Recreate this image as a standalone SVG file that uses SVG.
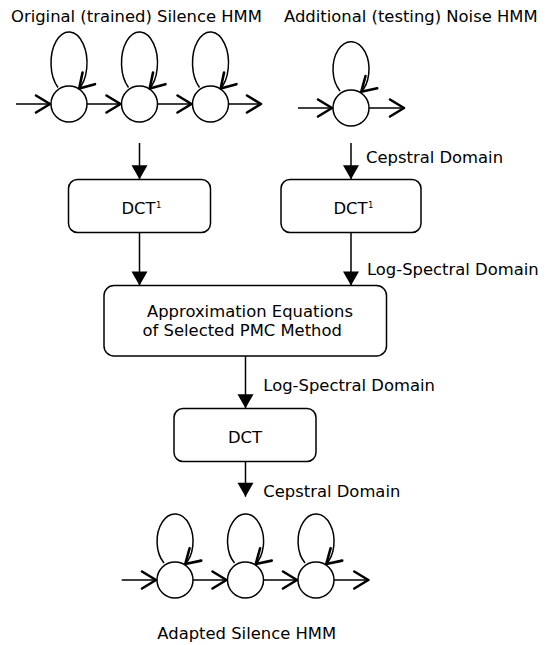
<svg xmlns="http://www.w3.org/2000/svg" width="559" height="645" viewBox="0 0 559 645">
  <style>
    text { font-family: "DejaVu Sans", "Liberation Sans", sans-serif; font-size: 16.4px; fill: #000; }
    .sup { font-size: 8.5px; }
    .state { fill: #fff; stroke: #000; stroke-width: 1.5; }
    .loop { fill: none; stroke: #000; stroke-width: 1.5; marker-end: url(#chev); }
    .trans { fill: none; stroke: #000; stroke-width: 1.5; marker-end: url(#chev); }
    .box { fill: #fff; stroke: #000; stroke-width: 1.5; }
    .flow { fill: none; stroke: #000; stroke-width: 1.5; marker-end: url(#tri); }
  </style>
  <defs>
    <!-- open chevron for HMM transitions -->
    <marker id="chev" markerUnits="userSpaceOnUse" viewBox="-20 -12 24 24" markerWidth="24" markerHeight="24" refX="0" refY="0" orient="auto">
      <path d="M -15 -8.5 L -1 0 L -15 8.5" fill="none" stroke="#000" stroke-width="2.6" stroke-linejoin="round" stroke-linecap="round"/>
    </marker>
    <!-- filled triangle for processing flow -->
    <marker id="tri" markerUnits="userSpaceOnUse" viewBox="-16 -10 18 20" markerWidth="18" markerHeight="20" refX="0" refY="0" orient="auto">
      <path d="M -14 -8 L 0 0 L -14 8 Z" fill="#000"/>
    </marker>
  </defs>

  <!-- titles -->
  <text id="title-silence" x="11" y="22">Original (trained) Silence HMM</text>
  <text id="title-noise" x="284" y="22">Additional (testing) Noise HMM</text>

  <!-- original silence HMM -->
  <g id="silence-hmm">
    <path class="trans" d="M 16 104 L 51 104"/>
    <path class="trans" d="M 87 104 L 121.5 104"/>
    <path class="trans" d="M 157.5 104 L 192.5 104"/>
    <path class="trans" d="M 228.5 104 L 262 104"/>
    <circle class="state" cx="69" cy="104" r="18"/>
    <circle class="state" cx="139.5" cy="104" r="18"/>
    <circle class="state" cx="210.5" cy="104" r="18"/>
    <path class="loop" d="M 58 87.5 A 18 31 0 1 1 78.5 89.3"/>
    <path class="loop" d="M 128.5 87.5 A 18 31 0 1 1 149 89.3"/>
    <path class="loop" d="M 199.5 87.5 A 18 31 0 1 1 220 89.3"/>
  </g>

  <!-- noise HMM -->
  <g id="noise-hmm">
    <path class="trans" d="M 298 108 L 333 108"/>
    <path class="trans" d="M 369 108 L 405 108"/>
    <circle class="state" cx="351" cy="108" r="18"/>
    <path class="loop" d="M 340 90.9 A 18 27.5 0 1 1 360.5 92.5"/>
  </g>

  <!-- processing blocks -->
  <g id="idct-silence">
    <rect class="box" x="68.5" y="179.5" width="142" height="53" rx="9"/>
    <text x="121.5" y="214.3">DCT</text>
    <text class="sup" x="156" y="207.5">1</text>
  </g>
  <g id="idct-noise">
    <rect class="box" x="281" y="179.5" width="140" height="53" rx="9"/>
    <text x="333.5" y="214.3">DCT</text>
    <text class="sup" x="368" y="207.5">1</text>
  </g>
  <g id="pmc">
    <rect class="box" x="104" y="285.5" width="282.5" height="70.5" rx="10"/>
    <text x="147" y="316.5">Approximation Equations</text>
    <text x="142.5" y="336">of Selected PMC Method</text>
  </g>
  <g id="dct">
    <rect class="box" x="174" y="408.5" width="142" height="53" rx="9"/>
    <text x="228" y="443.3">DCT</text>
  </g>

  <!-- adapted silence HMM -->
  <g id="adapted-hmm">
    <path class="trans" d="M 121.7 580 L 157 580"/>
    <path class="trans" d="M 193 580 L 227.5 580"/>
    <path class="trans" d="M 263.5 580 L 298 580"/>
    <path class="trans" d="M 334 580 L 369.3 580"/>
    <circle class="state" cx="175" cy="580" r="18"/>
    <circle class="state" cx="245.5" cy="580" r="18"/>
    <circle class="state" cx="316" cy="580" r="18"/>
    <path class="loop" d="M 164 563 A 18 27.4 0 1 1 184.5 564.7"/>
    <path class="loop" d="M 234.5 563 A 18 27.4 0 1 1 255 564.7"/>
    <path class="loop" d="M 305 563 A 18 27.4 0 1 1 325.5 564.7"/>
  </g>
  <text id="title-adapted" x="157.3" y="639">Adapted Silence HMM</text>

  <!-- flow connectors -->
  <g id="connectors">
    <path class="flow" d="M 139.5 143 L 139.5 179.3"/>
    <path class="flow" d="M 351 143 L 351 179.3"/>
    <path class="flow" d="M 139.5 232.5 L 139.5 285.5"/>
    <path class="flow" d="M 351 232.5 L 351 285.5"/>
    <path class="flow" d="M 245.5 356 L 245.5 408.3"/>
    <path class="flow" d="M 245.5 461.5 L 245.5 496.7"/>
    <text x="366" y="163">Cepstral Domain</text>
    <text x="367" y="275">Log-Spectral Domain</text>
    <text x="263.3" y="391">Log-Spectral Domain</text>
    <text x="263.3" y="496.7">Cepstral Domain</text>
  </g>
</svg>
